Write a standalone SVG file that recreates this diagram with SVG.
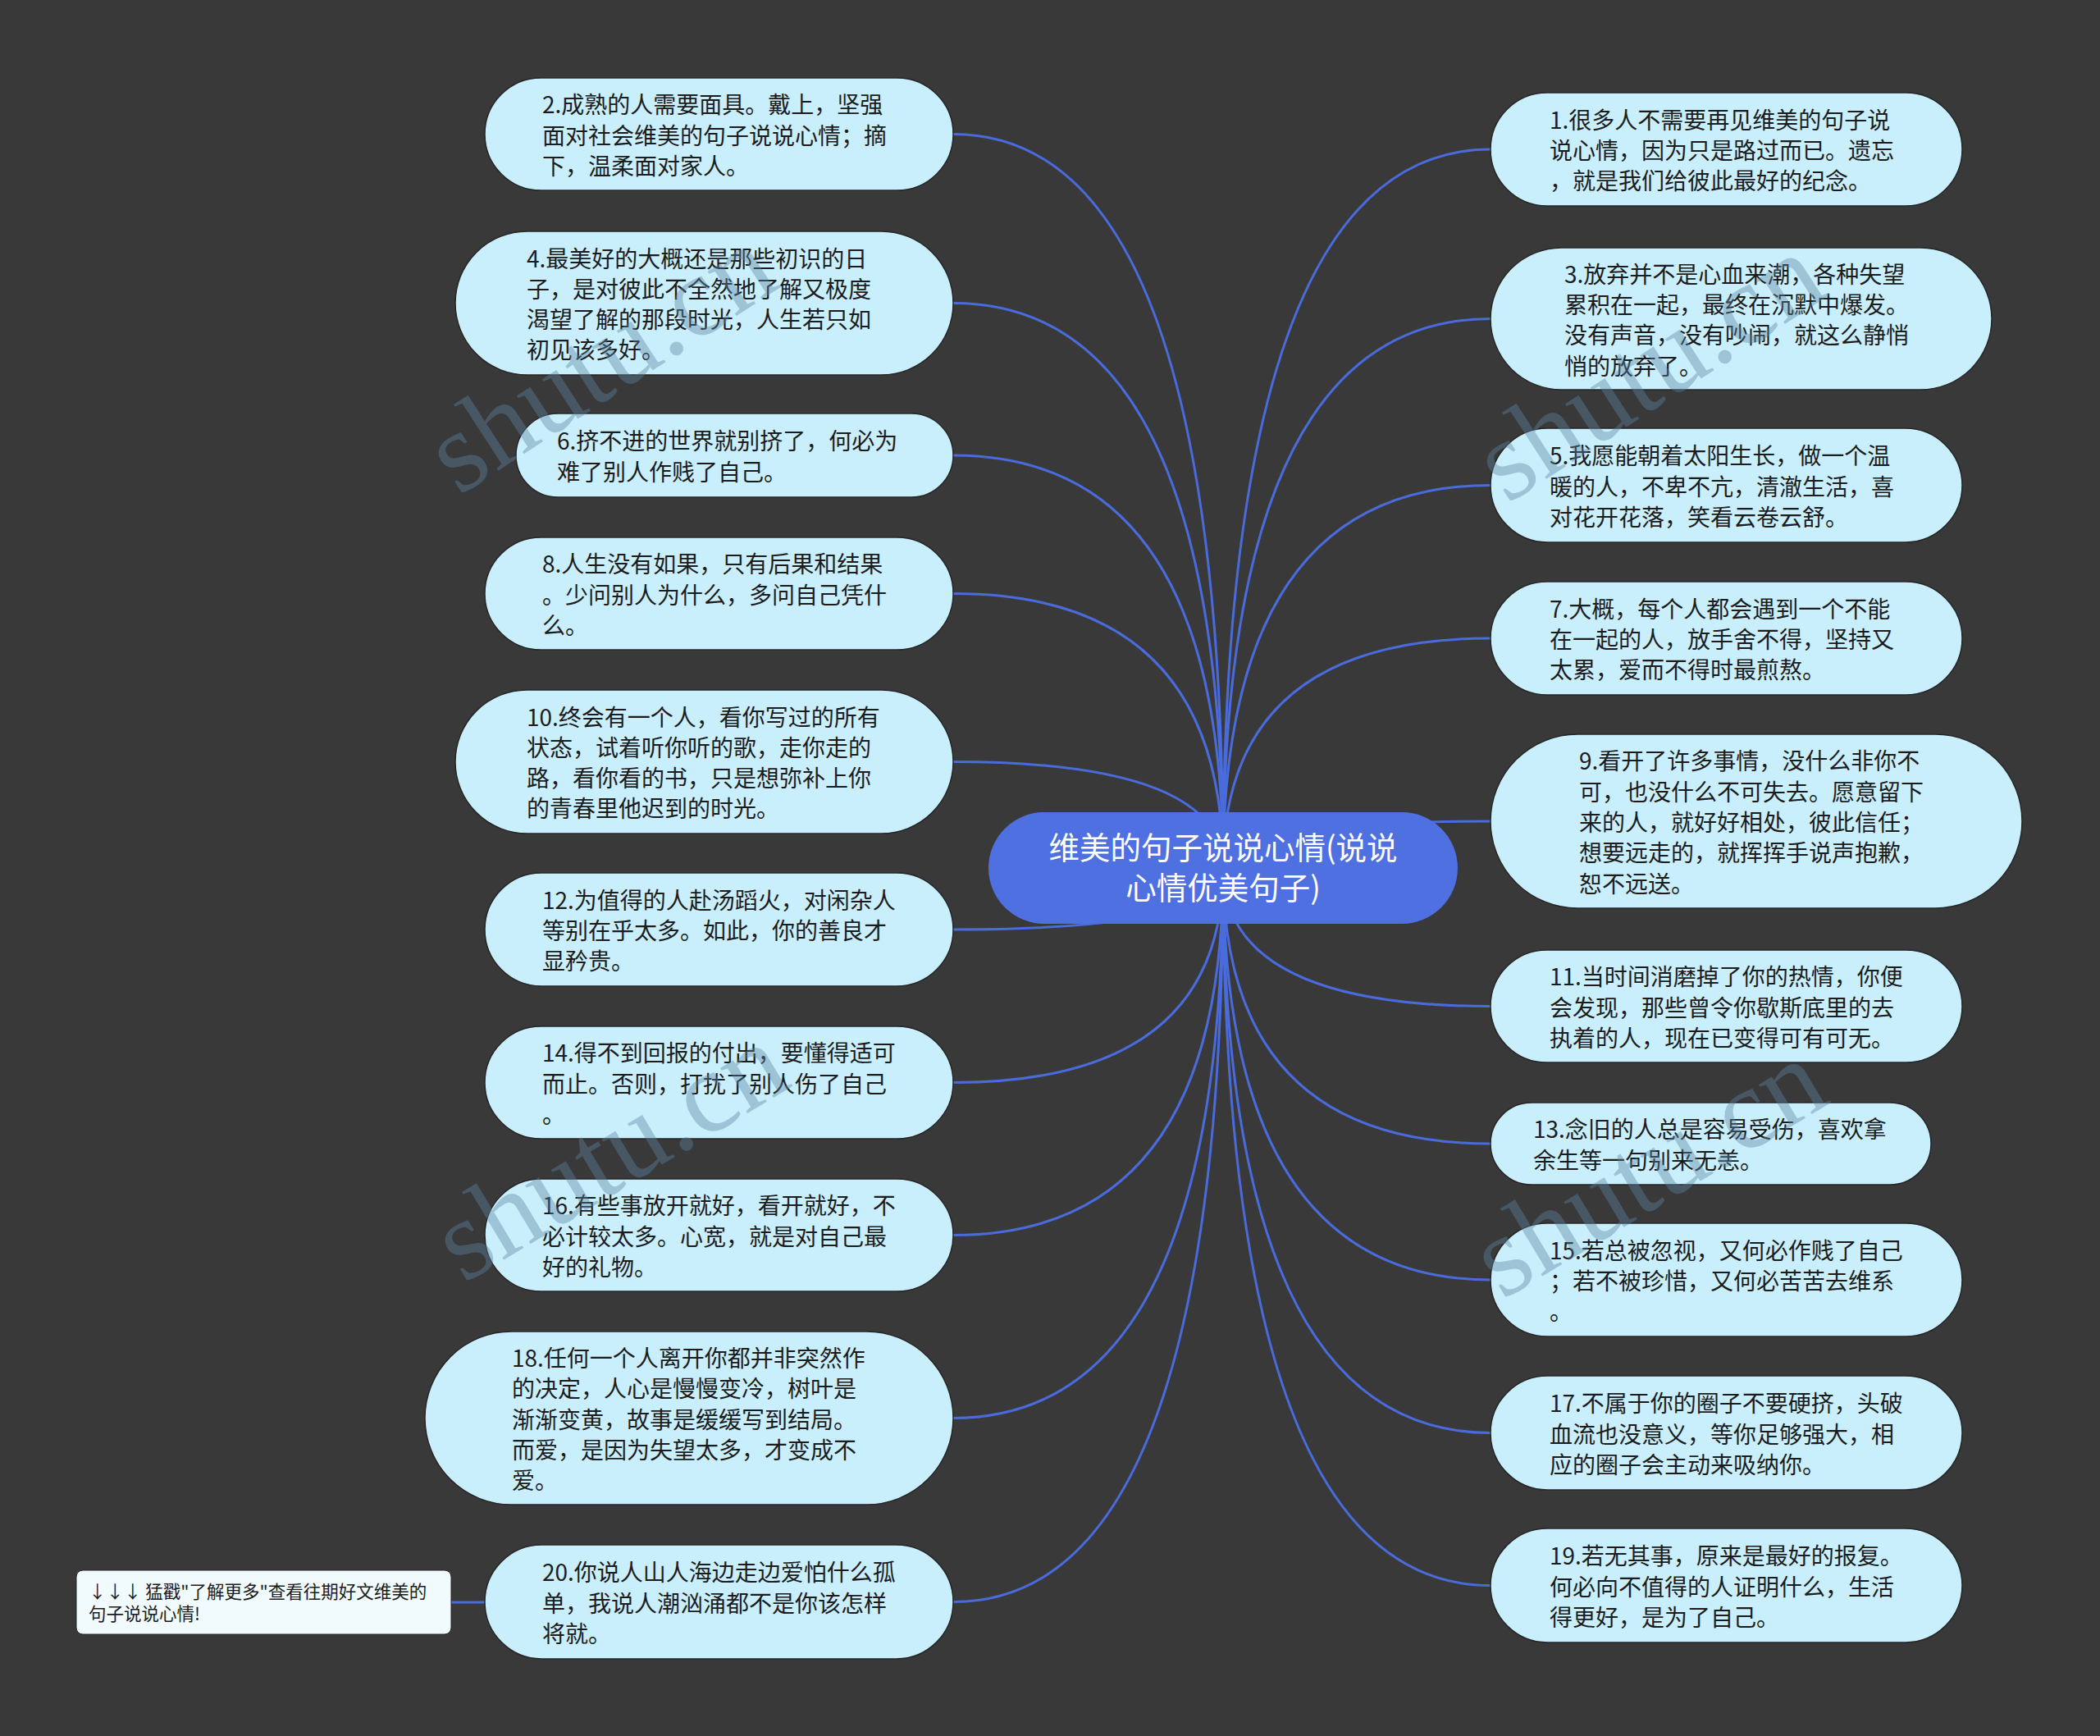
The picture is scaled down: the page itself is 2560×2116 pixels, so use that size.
<svg xmlns="http://www.w3.org/2000/svg" width="2560" height="2116" viewBox="0 0 2560 2116">
<style>
.bg{fill:#3a393a}
.conn{fill:none;stroke:#4a6bdc;stroke-width:3}
.node rect{fill:#c9eefc;stroke:#262626;stroke-width:1.5}
.node text{font-family:"Noto Sans CJK SC","Noto Sans",sans-serif;font-size:28px;fill:#1c1c1c}
.root rect{fill:#4e70e0}
.root text{font-family:"Noto Sans CJK SC","Noto Sans",sans-serif;font-size:37.5px;fill:#ffffff;text-anchor:middle}
.tip rect{fill:#f1fbfd;stroke:#262626;stroke-width:1}
.tip text{font-family:"Noto Sans CJK SC","Noto Sans",sans-serif;font-size:21.5px;fill:#1c1c1c}
.wm{font-family:"Liberation Serif",serif;font-size:140px;fill:#5b84a0;opacity:0.4}
</style>
<rect class="bg" x="0" y="0" width="2560" height="2116"/>

<g id="connectors">
<path class="conn" d="M1491 1058 Q1491 163.5 1162 163.5"/>
<path class="conn" d="M1491 1058 Q1491 369.5 1162 369.5"/>
<path class="conn" d="M1491 1058 Q1491 555 1162 555"/>
<path class="conn" d="M1491 1058 Q1491 723.5 1162 723.5"/>
<path class="conn" d="M1491 1058 Q1491 928.5 1162 928.5"/>
<path class="conn" d="M1491 1058 Q1491 1133 1162 1133"/>
<path class="conn" d="M1491 1058 Q1491 1319.5 1162 1319.5"/>
<path class="conn" d="M1491 1058 Q1491 1505.5 1162 1505.5"/>
<path class="conn" d="M1491 1058 Q1491 1728.5 1162 1728.5"/>
<path class="conn" d="M1491 1058 Q1491 1952.5 1162 1952.5"/>
<path class="conn" d="M1491 1058 Q1491 182 1817 182"/>
<path class="conn" d="M1491 1058 Q1491 388.5 1817 388.5"/>
<path class="conn" d="M1491 1058 Q1491 591.5 1817 591.5"/>
<path class="conn" d="M1491 1058 Q1491 778 1817 778"/>
<path class="conn" d="M1491 1058 Q1491 1001 1817 1001"/>
<path class="conn" d="M1491 1058 Q1491 1226.5 1817 1226.5"/>
<path class="conn" d="M1491 1058 Q1491 1394 1817 1394"/>
<path class="conn" d="M1491 1058 Q1491 1560 1817 1560"/>
<path class="conn" d="M1491 1058 Q1491 1746.5 1817 1746.5"/>
<path class="conn" d="M1491 1058 Q1491 1932.5 1817 1932.5"/>
<path class="conn" d="M550 1953 L591 1953"/>
</g>

<g id="root" class="root">
<rect x="1205" y="990" width="572" height="136" rx="68"/>
<text x="1491" y="1047">维美的句子说说心情(说说</text>
<text x="1491" y="1096">心情优美句子)</text>
</g>

<g id="n2" class="node">
<rect x="591" y="95" width="571" height="137" rx="68.5"/>
<text x="661" y="138.2">2.成熟的人需要面具。戴上，坚强</text>
<text x="661" y="175.5">面对社会维美的句子说说心情；摘</text>
<text x="661" y="212.8">下，温柔面对家人。</text>
</g>
<g id="n4" class="node">
<rect x="555" y="282" width="607" height="175" rx="87.5"/>
<text x="642" y="325.5">4.最美好的大概还是那些初识的日</text>
<text x="642" y="362.8">子，是对彼此不全然地了解又极度</text>
<text x="642" y="400.1">渴望了解的那段时光，人生若只如</text>
<text x="642" y="437.4">初见该多好。</text>
</g>
<g id="n6" class="node">
<rect x="629" y="504" width="533" height="102" rx="51"/>
<text x="679" y="548.4">6.挤不进的世界就别挤了，何必为</text>
<text x="679" y="585.7">难了别人作贱了自己。</text>
</g>
<g id="n8" class="node">
<rect x="591" y="655" width="571" height="137" rx="68.5"/>
<text x="661" y="698.2">8.人生没有如果，只有后果和结果</text>
<text x="661" y="735.5">。少问别人为什么，多问自己凭什</text>
<text x="661" y="772.8">么。</text>
</g>
<g id="n10" class="node">
<rect x="555" y="841" width="607" height="175" rx="87.5"/>
<text x="642" y="884.5">10.终会有一个人，看你写过的所有</text>
<text x="642" y="921.8">状态，试着听你听的歌，走你走的</text>
<text x="642" y="959.1">路，看你看的书，只是想弥补上你</text>
<text x="642" y="996.4">的青春里他迟到的时光。</text>
</g>
<g id="n12" class="node">
<rect x="591" y="1064" width="571" height="138" rx="69"/>
<text x="661" y="1107.7">12.为值得的人赴汤蹈火，对闲杂人</text>
<text x="661" y="1145">等别在乎太多。如此，你的善良才</text>
<text x="661" y="1182.3">显矜贵。</text>
</g>
<g id="n14" class="node">
<rect x="591" y="1251" width="571" height="137" rx="68.5"/>
<text x="661" y="1294.2">14.得不到回报的付出，要懂得适可</text>
<text x="661" y="1331.5">而止。否则，打扰了别人伤了自己</text>
<text x="661" y="1368.8">。</text>
</g>
<g id="n16" class="node">
<rect x="591" y="1437" width="571" height="137" rx="68.5"/>
<text x="661" y="1480.2">16.有些事放开就好，看开就好，不</text>
<text x="661" y="1517.5">必计较太多。心宽，就是对自己最</text>
<text x="661" y="1554.8">好的礼物。</text>
</g>
<g id="n18" class="node">
<rect x="518" y="1623" width="644" height="211" rx="105.5"/>
<text x="624" y="1666">18.任何一个人离开你都并非突然作</text>
<text x="624" y="1703.3">的决定，人心是慢慢变冷，树叶是</text>
<text x="624" y="1740.6">渐渐变黄，故事是缓缓写到结局。</text>
<text x="624" y="1777.9">而爱，是因为失望太多，才变成不</text>
<text x="624" y="1815.2">爱。</text>
</g>
<g id="n20" class="node">
<rect x="591" y="1883" width="571" height="139" rx="69.5"/>
<text x="661" y="1927.2">20.你说人山人海边走边爱怕什么孤</text>
<text x="661" y="1964.5">单，我说人潮汹涌都不是你该怎样</text>
<text x="661" y="2001.8">将就。</text>
</g>

<g id="n1" class="node">
<rect x="1817" y="113" width="575" height="138" rx="69"/>
<text x="1889" y="156.7">1.很多人不需要再见维美的句子说</text>
<text x="1889" y="194">说心情，因为只是路过而已。遗忘</text>
<text x="1889" y="231.3">，就是我们给彼此最好的纪念。</text>
</g>
<g id="n3" class="node">
<rect x="1817" y="302" width="611" height="173" rx="86.5"/>
<text x="1907" y="344.6">3.放弃并不是心血来潮，各种失望</text>
<text x="1907" y="381.9">累积在一起，最终在沉默中爆发。</text>
<text x="1907" y="419.2">没有声音，没有吵闹，就这么静悄</text>
<text x="1907" y="456.5">悄的放弃了。</text>
</g>
<g id="n5" class="node">
<rect x="1817" y="522" width="575" height="139" rx="69.5"/>
<text x="1889" y="566.2">5.我愿能朝着太阳生长，做一个温</text>
<text x="1889" y="603.5">暖的人，不卑不亢，清澈生活，喜</text>
<text x="1889" y="640.8">对花开花落，笑看云卷云舒。</text>
</g>
<g id="n7" class="node">
<rect x="1817" y="709" width="575" height="138" rx="69"/>
<text x="1889" y="752.7">7.大概，每个人都会遇到一个不能</text>
<text x="1889" y="790">在一起的人，放手舍不得，坚持又</text>
<text x="1889" y="827.3">太累，爱而不得时最煎熬。</text>
</g>
<g id="n9" class="node">
<rect x="1817" y="895" width="648" height="212" rx="106"/>
<text x="1925" y="938.4">9.看开了许多事情，没什么非你不</text>
<text x="1925" y="975.7">可，也没什么不可失去。愿意留下</text>
<text x="1925" y="1013">来的人，就好好相处，彼此信任；</text>
<text x="1925" y="1050.3">想要远走的，就挥挥手说声抱歉，</text>
<text x="1925" y="1087.6">恕不远送。</text>
</g>
<g id="n11" class="node">
<rect x="1817" y="1158" width="575" height="137" rx="68.5"/>
<text x="1889" y="1201.2">11.当时间消磨掉了你的热情，你便</text>
<text x="1889" y="1238.5">会发现，那些曾令你歇斯底里的去</text>
<text x="1889" y="1275.8">执着的人，现在已变得可有可无。</text>
</g>
<g id="n13" class="node">
<rect x="1817" y="1344" width="537" height="100" rx="50"/>
<text x="1869" y="1387.4">13.念旧的人总是容易受伤，喜欢拿</text>
<text x="1869" y="1424.7">余生等一句别来无恙。</text>
</g>
<g id="n15" class="node">
<rect x="1817" y="1491" width="575" height="138" rx="69"/>
<text x="1889" y="1534.7">15.若总被忽视，又何必作贱了自己</text>
<text x="1889" y="1572">；若不被珍惜，又何必苦苦去维系</text>
<text x="1889" y="1609.3">。</text>
</g>
<g id="n17" class="node">
<rect x="1817" y="1677" width="575" height="139" rx="69.5"/>
<text x="1889" y="1721.2">17.不属于你的圈子不要硬挤，头破</text>
<text x="1889" y="1758.5">血流也没意义，等你足够强大，相</text>
<text x="1889" y="1795.8">应的圈子会主动来吸纳你。</text>
</g>
<g id="n19" class="node">
<rect x="1817" y="1863" width="575" height="139" rx="69.5"/>
<text x="1889" y="1907.2">19.若无其事，原来是最好的报复。</text>
<text x="1889" y="1944.5">何必向不值得的人证明什么，生活</text>
<text x="1889" y="1981.8">得更好，是为了自己。</text>
</g>

<g id="tip" class="tip">
<rect x="93" y="1914" width="457" height="78" rx="8"/>
<text x="108" y="1948">↓↓↓ 猛戳"了解更多"查看往期好文维美的</text>
<text x="108" y="1975">句子说说心情!</text>
</g>

<g id="watermarks">
<text class="wm" transform="translate(559 605) rotate(-33)">shutu.cn</text>
<text class="wm" transform="translate(1837 615) rotate(-33)">shutu.cn</text>
<text class="wm" transform="translate(565 1565) rotate(-31)">shutu.cn</text>
<text class="wm" transform="translate(1831 1585) rotate(-31)">shutu.cn</text>
</g>
</svg>
